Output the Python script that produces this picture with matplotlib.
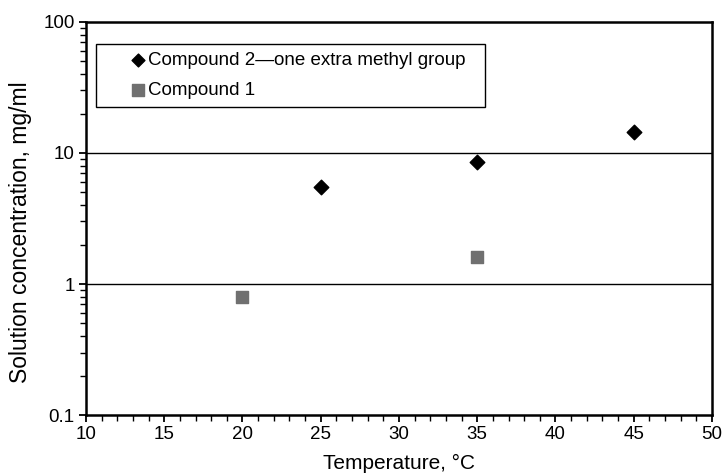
import numpy as np
import matplotlib
matplotlib.use('Agg')
import matplotlib.pyplot as plt
from matplotlib.ticker import MultipleLocator, LogLocator, FixedLocator

plt.rcParams['font.family'] = ['Liberation Sans', 'DejaVu Sans']

# data
temp_c2 = [25, 35, 45]
conc_c2 = [5.5, 8.5, 14.5]
temp_c1 = [20, 35]
conc_c1 = [0.8, 1.6]
y_ticks = [0.1, 1, 10, 100]
y_tick_labels = ['0.1', '1', '10', '100']

fig = plt.figure(figsize=(7.25, 4.75), dpi=100)
ax = fig.add_axes([0.1186, 0.1263, 0.8634, 0.8274])

ax.scatter(temp_c2, conc_c2, marker='D', s=55, color='black', zorder=3,
           label='Compound 2\u2014one extra methyl group')
ax.scatter(temp_c1, conc_c1, marker='s', s=85, color='#707070', zorder=3,
           label='Compound 1')

ax.set_yscale('log')
ax.set_xlim(10, 50)
ax.set_ylim(0.1, 100)
ax.yaxis.set_major_locator(FixedLocator(y_ticks))
ax.set_yticklabels(y_tick_labels)
ax.yaxis.set_minor_locator(LogLocator(base=10, subs=np.arange(2, 10)))
ax.yaxis.set_minor_formatter(plt.NullFormatter())
ax.xaxis.set_major_locator(MultipleLocator(5))
ax.xaxis.set_minor_locator(MultipleLocator(1))

for v in [1, 10]:
    ax.axhline(v, color='black', lw=1.0, zorder=1)

ax.tick_params(which='major', direction='out', length=5, width=1.3, labelsize=13.5, pad=3)
ax.tick_params(which='minor', direction='out', length=4, width=1.0)
for s in ax.spines.values():
    s.set_linewidth(1.8)

ax.set_xlabel('Temperature, \u00b0C', fontsize=15, labelpad=7.5)
ax.set_ylabel('Solution concentration, mg/ml', fontsize=16.5)
ax.yaxis.set_label_coords(-0.086, 0.466)

leg = ax.legend(loc='upper left', bbox_to_anchor=(0.016, 0.0, 0.621, 0.944),
                mode='expand', fancybox=False, edgecolor='black', framealpha=1,
                fontsize=13.5, markerscale=0.88, handlelength=3.6, handletextpad=-1.25,
                borderpad=0.44, labelspacing=0.64, borderaxespad=0)
leg.get_frame().set_linewidth(1.0)

fig.savefig('out.png', dpi=100)
